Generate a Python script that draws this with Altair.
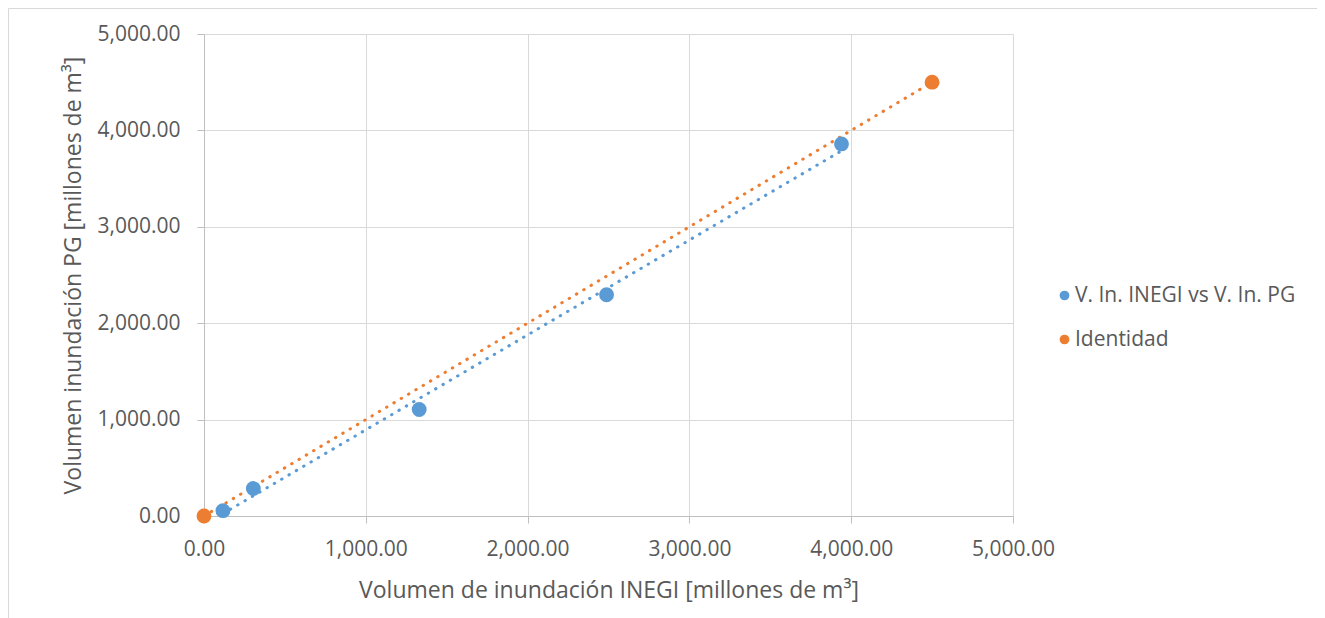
import altair as alt
import pandas as pd

series_blue = "V. In. INEGI vs V. In. PG"
series_orange = "Identidad"

blue_x = [117, 305, 1330, 2488, 3940]
blue_y = [55, 285, 1105, 2295, 3860]
orange_x = [0, 4500]
orange_y = [0, 4500]

x_ticks = [0, 1000, 2000, 3000, 4000, 5000]
y_ticks = [0, 1000, 2000, 3000, 4000, 5000]

df = pd.DataFrame({
    "x": blue_x + orange_x,
    "y": blue_y + orange_y,
    "serie": [series_blue] * len(blue_x) + [series_orange] * len(orange_x),
})

FONT = "Open Sans"
GRAY = "#595959"

color = alt.Color(
    "serie:N",
    scale=alt.Scale(domain=[series_blue, series_orange], range=["#5B9BD5", "#ED7D31"]),
    legend=alt.Legend(
        title=None, orient="none", legendX=850, legendY=251,
        symbolType="circle", symbolSize=95, symbolStrokeWidth=0,
        labelFont=FONT, labelFontSize=21, labelColor=GRAY, labelOffset=0,
        rowPadding=22, labelLimit=400,
    ),
)

xenc = alt.X(
    "x:Q",
    scale=alt.Scale(domain=[0, 5000], nice=False),
    axis=alt.Axis(
        values=x_ticks, format=",.2f",
        title="Volumen de inundación INEGI [millones de m³]",
        titleFont=FONT, titleFontSize=23, titleFontWeight="normal", titleColor=GRAY,
        titlePadding=20,
        labelFont=FONT, labelFontSize=21, labelColor=GRAY, labelPadding=15,
        labelFlush=False, labelOverlap=False,
        tickSize=7, tickColor="#bfbfbf", domainColor="#bfbfbf",
        gridColor="#d9d9d9",
    ),
)
yenc = alt.Y(
    "y:Q",
    scale=alt.Scale(domain=[0, 5000], nice=False),
    axis=alt.Axis(
        values=y_ticks, format=",.2f",
        title="Volumen inundación PG [millones de m³]",
        titleFont=FONT, titleFontSize=23, titleFontWeight="normal", titleColor=GRAY,
        titlePadding=12,
        labelFont=FONT, labelFontSize=21, labelColor=GRAY, labelPadding=17,
        labelFlush=False, labelOverlap=False,
        tickSize=7, tickColor="#bfbfbf", domainColor="#bfbfbf",
        gridColor="#d9d9d9",
    ),
)

base = alt.Chart(df)

lines = base.transform_regression(
    "x", "y", groupby=["serie"]
).mark_line(
    strokeDash=[0.5, 8], strokeWidth=3, strokeCap="round"
).encode(x=xenc, y=yenc, color=color)

points = base.mark_circle(size=220, opacity=1).encode(x=xenc, y=yenc, color=color)

border = alt.Chart(pd.DataFrame({"a": [0]})).mark_rect(
    fill=None, stroke="#d9d9d9", strokeWidth=1
).encode(
    x=alt.value(-195.5), x2=alt.value(1113.5), y=alt.value(-25.5), y2=alt.value(640)
)

chart = alt.layer(border, lines, points).properties(
    width=809, height=482,
    padding={"left": 196, "top": 26, "right": 304, "bottom": 102},
    autosize="none",
).configure_view(stroke=None)

chart.save("out.html", embed_options={"renderer": "svg", "actions": False})
